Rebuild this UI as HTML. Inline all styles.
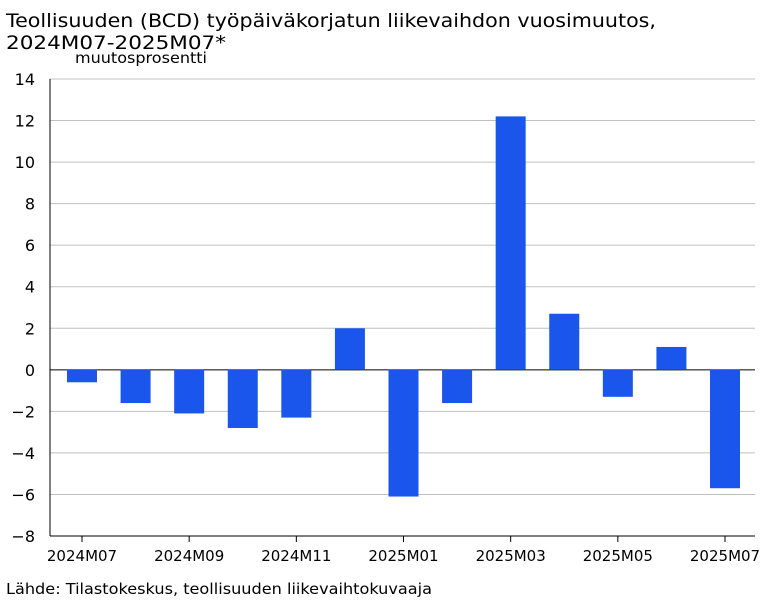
<!DOCTYPE html>
<html><head><meta charset="utf-8"><style>
body{margin:0;background:#fff;font-family:"DejaVu Sans","Liberation Sans",sans-serif;}
svg text{font-family:"DejaVu Sans","Liberation Sans",sans-serif;}
</style></head><body>
<svg id="c" width="766" height="600" xmlns="http://www.w3.org/2000/svg">
<text x="6" y="27" font-size="19" textLength="650" lengthAdjust="spacingAndGlyphs" fill="#000">Teollisuuden (BCD) työpäiväkorjatun liikevaihdon vuosimuutos,</text>
<text x="6" y="49" font-size="19" textLength="220" lengthAdjust="spacingAndGlyphs" fill="#000">2024M07-2025M07*</text>
<text x="75" y="63" font-size="15" textLength="132" lengthAdjust="spacingAndGlyphs" fill="#000">muutosprosentti</text>
<text x="6" y="594" font-size="15" textLength="426" lengthAdjust="spacingAndGlyphs" fill="#000">Lähde: Tilastokeskus, teollisuuden liikevaihtokuvaaja</text>
<g id="grid"></g><g id="bars"></g><g id="axes"></g>
</svg>
<script>
const categories=["2024M07","2024M08","2024M09","2024M10","2024M11","2024M12","2025M01","2025M02","2025M03","2025M04","2025M05","2025M06","2025M07"];
const values=[-0.6,-1.6,-2.1,-2.8,-2.3,2.0,-6.1,-1.6,12.2,2.7,-1.3,1.1,-5.7];
const yTicks=[-8,-6,-4,-2,0,2,4,6,8,10,12,14];
const ns="http://www.w3.org/2000/svg";
const yMin=-8,yMax=14,yTop=79,yBot=536,pLeft=50,pRight=755;
const y=v=>yBot-(v-yMin)/(yMax-yMin)*(yBot-yTop);
const x=i=>82+i*(725-82)/(categories.length-1);
function mk(t,a,p){const e=document.createElementNS(ns,t);for(const k in a)e.setAttribute(k,a[k]);document.getElementById(p).appendChild(e);return e;}
yTicks.forEach(t=>{
 const l=mk("line",{x1:pLeft,x2:pRight,y1:y(t),y2:y(t),stroke:t===0?"#000":"#c0c0c0","stroke-width":1},"grid");
 
 
 const tx=mk("text",{x:35,y:y(t)+6,"font-size":16,"text-anchor":"end"},"axes");
 tx.textContent=t===0?"0":(t<0?"−"+(-t):t);
 
 
});
values.forEach((v,i)=>{
 const r=mk("rect",{x:x(i)-15,width:30,y:Math.min(y(v),y(0)),height:Math.abs(y(v)-y(0)),fill:"#1a56eb"},"bars");
 
 
});
let a=mk("line",{x1:pLeft,x2:pLeft,y1:yTop,y2:yBot,stroke:"#000"},"axes");


a=mk("line",{x1:pLeft,x2:pRight,y1:yBot,y2:yBot,stroke:"#000"},"axes");


categories.forEach((c,i)=>{
 if(i%2)return;
 const tk=mk("line",{x1:x(i),x2:x(i),y1:yBot,y2:yBot+6,stroke:"#000"},"axes");
 
 
 const tx=mk("text",{x:x(i),y:yBot+25,"font-size":15,"text-anchor":"middle"},"axes");
 tx.textContent=c;
 
 
});
</script>
</body></html>
